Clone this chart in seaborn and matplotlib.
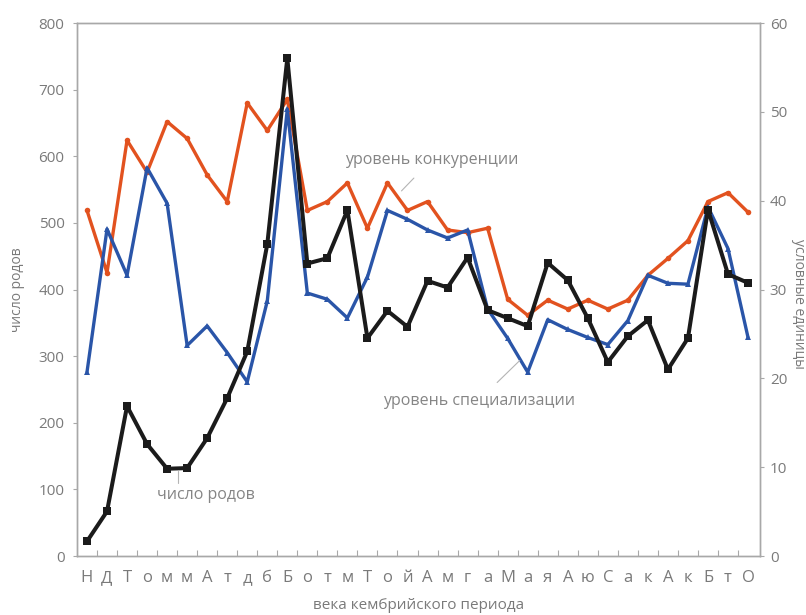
import matplotlib
matplotlib.use("Agg")
import matplotlib.pyplot as plt
import seaborn as sns
import pandas as pd
import numpy as np

# Ages of the Cambrian period (abbreviated stage labels)
ages = ["Н", "Д", "Т", "о", "м", "м", "А", "т", "д", "б", "Б", "о", "т", "м",
        "Т", "о", "й", "А", "м", "г", "а", "М", "а", "я", "А", "ю", "С", "а",
        "к", "А", "к", "Б", "т", "О"]

# Number of genera (left axis)
genera = [22, 67, 225, 168, 131, 132, 177, 237, 307, 468, 747, 439, 447, 519,
          327, 368, 344, 413, 403, 448, 369, 357, 345, 440, 414, 357, 291, 330,
          354, 280, 327, 520, 423, 410]

# Level of competition (right axis)
competition = [38.9, 31.9, 46.8, 43.2, 48.9, 47.0, 42.9, 39.9, 51.0, 47.9,
               51.4, 38.9, 39.9, 42.0, 36.9, 42.0, 38.9, 39.9, 36.7, 36.4,
               36.9, 28.9, 27.1, 28.8, 27.8, 28.8, 27.8, 28.8, 31.6, 33.5,
               35.5, 39.9, 40.9, 38.7]

# Level of specialisation (right axis)
specialisation = [20.7, 36.8, 31.6, 43.7, 39.7, 23.7, 25.9, 22.9, 19.6, 28.7,
                  50.3, 29.6, 28.9, 26.8, 31.4, 38.9, 37.9, 36.7, 35.8, 36.7,
                  27.8, 24.5, 20.7, 26.6, 25.5, 24.6, 23.8, 26.5, 31.6, 30.7,
                  30.6, 39.3, 34.6, 24.6]

pos = np.arange(len(ages))
df = pd.DataFrame({"pos": pos, "genera": genera,
                   "competition": competition, "specialisation": specialisation})

sns.set_theme(style="white")
plt.rcParams["font.family"] = ["Open Sans", "DejaVu Sans"]

text_col = "#7a7a7a"
note_col = "#858585"
spine_col = "#a8a8a8"
lead_col = "#b4b4b4"

fig = plt.figure(figsize=(8.06, 6.15), dpi=100)
ax = fig.add_axes([0.0955, 0.0959, 0.8475, 0.8667])
ax2 = ax.twinx()

sns.lineplot(data=df, x="pos", y="competition", ax=ax2, color="#e2521f",
             linewidth=2.4, marker="o", markersize=4, markeredgewidth=0)
sns.lineplot(data=df, x="pos", y="specialisation", ax=ax2, color="#2a55a8",
             linewidth=2.4, marker="^", markersize=5, markeredgewidth=0)
sns.lineplot(data=df, x="pos", y="genera", ax=ax, color="#1b1b1b",
             linewidth=2.9, marker="s", markersize=6, markeredgewidth=0)

# keep the genera curve above the right-axis curves
ax.set_zorder(ax2.get_zorder() + 1)
ax.patch.set_visible(False)

ax.set_xlim(-0.5, 33.6)
ax.set_ylim(0, 800)
ax2.set_ylim(0, 60)
ax.set_yticks(np.arange(0, 801, 100))
ax2.set_yticks(np.arange(0, 61, 10))

ax.set_xticks(pos)
ax.set_xticklabels(ages)
ax.set_xticks(pos[:-1] + 0.5, minor=True)
ax.tick_params(axis="x", which="major", length=0, pad=10, labelsize=12,
               labelcolor=text_col)
ax.tick_params(axis="x", which="minor", direction="in", length=4, width=0.8,
               color=spine_col, bottom=True)
ax.tick_params(axis="y", left=True, length=3, width=0.8, color=spine_col,
               labelsize=11, labelcolor=text_col, pad=6)
ax2.tick_params(axis="y", right=True, length=3, width=0.8, color=spine_col,
                labelsize=11, labelcolor=text_col, pad=4)

for a in (ax, ax2):
    for s in a.spines.values():
        s.set_color(spine_col)
        s.set_linewidth(1.0)
    a.grid(False)

ax.set_xlabel("века кембрийского периода", color=text_col, fontsize=11, labelpad=9)
ax.set_ylabel("число родов", color=text_col, fontsize=10, labelpad=10)
ax2.set_ylabel("")
fig.text(0.991, 0.505, "условные единицы", rotation=270, color=text_col,
         fontsize=10, ha="center", va="center")

# series captions with short leader lines
ax2.annotate("уровень конкуренции", xy=(15.7, 41.1), xytext=(17.2, 44.6),
             color=note_col, fontsize=11.5, ha="center", va="center",
             arrowprops=dict(arrowstyle="-", color=lead_col, lw=0.8,
                             shrinkA=7, shrinkB=0))
ax2.annotate("уровень специализации", xy=(21.6, 22.0), xytext=(19.55, 17.5),
             color=note_col, fontsize=11.5, ha="center", va="center",
             arrowprops=dict(arrowstyle="-", color=lead_col, lw=0.8,
                             shrinkA=7, shrinkB=0))
ax.plot([4.55, 4.55], [128, 110], color=lead_col, lw=0.8)
ax.text(5.95, 91, "число родов", color=note_col, fontsize=11.5,
        ha="center", va="center")

fig.savefig("out.png", dpi=100)
